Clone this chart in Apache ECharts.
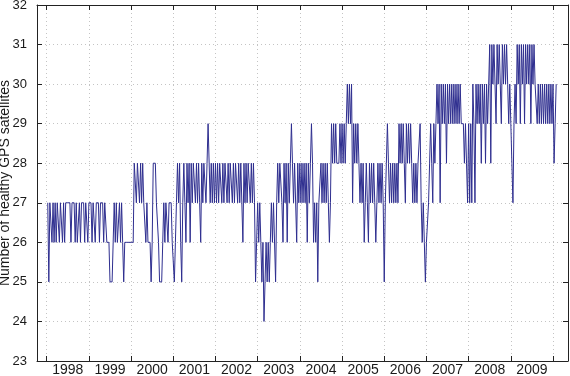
<!DOCTYPE html>
<html>
<head>
<meta charset="utf-8">
<script src="https://cdn.jsdelivr.net/npm/echarts@6/dist/echarts.min.js"></script>
<style>
html, body { margin: 0; padding: 0; background: #fff; }
#chart { width: 570px; height: 376px; }
</style>
</head>
<body>
<div id="chart"></div>
<script>
// healthy GPS satellites, one reading every 1/40 year
var startYear = 1998.025
var stepYear = 0.025
var c1998 = [27,25,27,27,26,27,26,27,26,27, 27,26,27,27,26,27,26,27,27,27, 27,27,26,27,27,27,26,27,26,26, 27,26,27,27,27,26,27,27,26]
var c1999 = [27,27,27,26,27,27,26,27,27,27, 26,27,27,27,26,27,27,26,26,26, 25,25,25,26,27,26,27,26,26,27, 26,27,26,25,26,26,26,26,26,26]
var c2000 = [26,26,26,28,28,27,28,28,27,28, 27,28,27,27,26,27,26,26,26,25, 26,28,28,28,27,27,26,25,25,25, 26,27,26,27,27,26,27,27,27,26]
var c2001 = [26,25,26,27,28,27,28,26,25,27, 28,27,26,28,27,28,26,28,27,28, 28,27,28,27,28,27,26,28,27,28, 28,27,28,29,28,27,28,27,28,27]
var c2002 = [28,27,28,27,28,28,27,28,27,28, 28,27,28,27,28,28,27,28,27,28, 28,27,28,27,28,28,26,28,27,28, 27,28,28,27,28,27,28,27,25,26]
var c2003 = [27,26,27,26,25,26,24,25,26,25, 26,25,26,27,26,27,27,25,27,28, 27,28,28,27,26,28,27,28,26,28, 27,28,29,28,27,28,28,26,28,27]
var c2004 = [28,27,28,27,28,27,28,26,28,27, 28,29,28,26,27,26,27,25,27,27, 28,27,28,27,28,27,28,27,26,27, 29,28,29,28,29,28,28,28,29,28]
var c2005 = [29,28,29,28,29,30,29,30,29,30, 27,29,28,29,28,29,28,27,28,27, 28,26,27,28,27,26,28,27,28,27, 28,27,26,27,28,27,28,27,28,27]
var c2006 = [25,27,28,29,28,27,28,27,28,27, 28,27,28,27,29,28,29,28,29,28, 27,29,28,29,28,29,28,27,28,27, 28,27,28,28,29,27,26,27,26,25]
var c2007 = [26,26,27,28,29,28,27,29,28,29, 30,29,30,27,30,29,30,29,30,28, 30,29,30,29,30,29,30,29,30,29, 30,29,30,29,29,29,28,29,28,27]
var c2008 = [29,27,29,27,30,29,27,30,29,30, 29,30,28,30,29,30,28,30,29,30, 31,28,31,30,31,30,29,31,30,31, 30,29,31,30,31,30,31,30,29,30]
var c2009 = [29,28,27,29,30,29,31,30,31,29, 31,30,31,29,31,30,31,30,31,29, 31,30,31,30,30,29,30,29,30,29, 30,29,30,29,30,29,30,29,30,29]
var c2010 = [30,28,29,30]

var yearTicks = [1998,1999,2000,2001,2002,2003,2004,2005,2006,2007,2008,2009,2010]
var yearLabels = [1998.5,1999.5,2000.5,2001.5,2002.5,2003.5,2004.5,2005.5,2006.5,2007.5,2008.5,2009.5]

var counts = [].concat(c1998, c1999, c2000, c2001, c2002, c2003, c2004, c2005, c2006, c2007, c2008, c2009, c2010)
var seriesData = counts.map(function (v, i) {
    return [startYear + i * stepYear, v]
})

var font = 'Liberation Sans, Arial, Helvetica, sans-serif'
var chart = echarts.init(document.getElementById('chart'))

var xBase = {
    type: 'value',
    min: 1997.77,
    max: 2010.355,
    axisLine: { show: true, onZero: false, lineStyle: { color: '#222', width: 1 } },
    axisTick: { show: true, inside: true, length: 5, customValues: yearTicks, lineStyle: { color: '#222' } },
    splitLine: { show: false }
}
var yBase = {
    type: 'value',
    min: 23,
    max: 32,
    interval: 1,
    axisLine: { show: true, onZero: false, lineStyle: { color: '#222', width: 1 } },
    axisTick: { show: true, inside: true, length: 5, lineStyle: { color: '#222' } },
    splitLine: { show: false }
}

chart.setOption({
    animation: false,
    grid: { left: 37, right: 2, top: 5, bottom: 15, containLabel: false, outerBoundsMode: 'none' },
    xAxis: [
        Object.assign({}, xBase, {
            position: 'bottom',
            axisLabel: {
                customValues: yearLabels,
                formatter: function (v) { return Math.floor(v) },
                color: '#1a1a1a', fontFamily: font, fontSize: 14, margin: 2
            },
            splitLine: { show: true, lineStyle: { color: '#c4c4c4', type: [1, 3], width: 1 } }
        }),
        Object.assign({}, xBase, { position: 'top', axisLabel: { show: false } })
    ],
    yAxis: [
        Object.assign({}, yBase, {
            position: 'left',
            name: 'Number of healthy GPS satellites',
            nameLocation: 'middle',
            nameGap: 25,
            nameMoveOverlap: false,
            nameTextStyle: { color: '#1a1a1a', fontFamily: font, fontSize: 14 },
            axisLabel: { color: '#1a1a1a', fontFamily: font, fontSize: 13, margin: 10 },
            splitLine: { show: true, lineStyle: { color: '#c4c4c4', type: [1, 3], width: 1 } }
        }),
        Object.assign({}, yBase, { position: 'right', axisLabel: { show: false } })
    ],
    series: [{
        type: 'line',
        data: seriesData,
        showSymbol: false,
        sampling: null,
        lineStyle: { color: '#2e2e8f', width: 1 },
        itemStyle: { color: '#2e2e8f' }
    }]
})
</script>
</body>
</html>
